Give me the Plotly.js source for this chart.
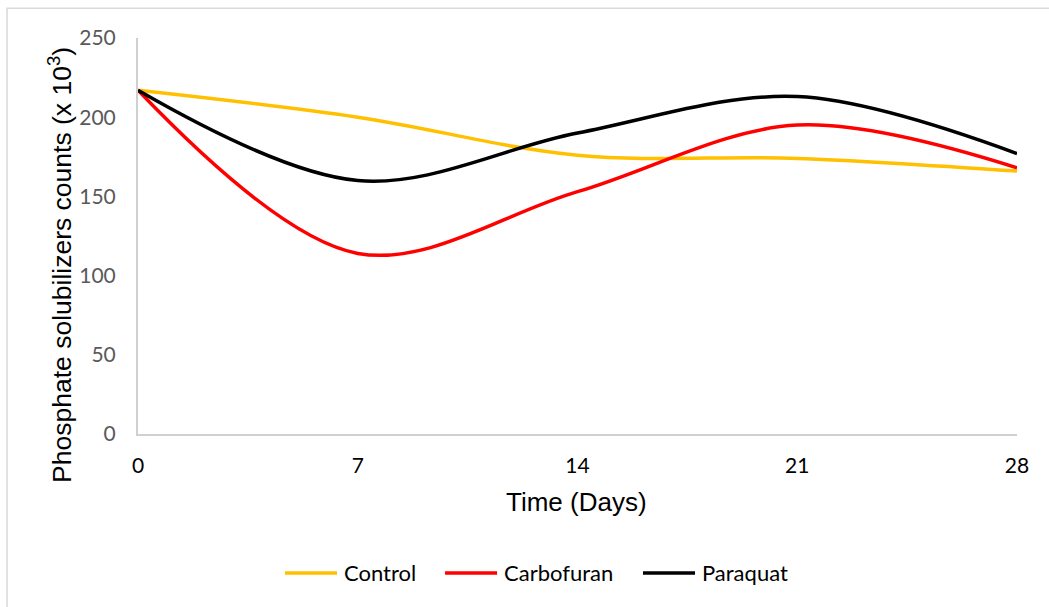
<!DOCTYPE html>
<html>
<head>
<meta charset="utf-8">
<script src="https://cdn.plot.ly/plotly-3.0.1.min.js"></script>
<style>
  html, body { margin: 0; padding: 0; background: #fff; }
  #chart { width: 1049px; height: 607px; }
</style>
</head>
<body>
<div id="chart"></div>
<script>
const days = [0, 7, 14, 21, 28];
const control = [217, 200, 176, 174, 166];
const carbofuran = [217, 114, 153, 195, 168];
const paraquat = [217, 160, 190, 213, 177];
const seriesNames = ['Control', 'Carbofuran', 'Paraquat'];
const colors = ['#FFC000', '#FF0000', '#000000'];
const yTicks = [0, 50, 100, 150, 200, 250];

const seriesData = [control, carbofuran, paraquat];
const traces = seriesData.map((vals, i) => ({
  x: days,
  y: vals,
  name: seriesNames[i],
  type: 'scatter',
  mode: 'lines',
  line: { color: colors[i], width: 3.5, shape: 'spline', smoothing: 1 }
}));

const tickFont = { family: 'Lato, "Open Sans", sans-serif', size: 21 };
const legendFont = { family: 'Lato, "Open Sans", sans-serif', size: 22, color: '#000000' };

// custom legend (line sample + label) placed below the plot
const legendY = -0.351;
const legendLineStart = [0.1672, 0.3493, 0.5745];
const legendLineLen = 0.0592;
const legendShapes = seriesNames.map((n, i) => ({
  type: 'line', xref: 'paper', yref: 'paper',
  x0: legendLineStart[i], x1: legendLineStart[i] + legendLineLen,
  y0: legendY, y1: legendY,
  line: { color: colors[i], width: 3.5 }
}));
const legendLabels = seriesNames.map((n, i) => ({
  text: n, xref: 'paper', yref: 'paper',
  x: legendLineStart[i] + legendLineLen + 0.0057, y: legendY,
  xanchor: 'left', yanchor: 'middle',
  showarrow: false, font: legendFont
}));

const layout = {
  width: 1049,
  height: 607,
  margin: { l: 138, r: 32, t: 38, b: 173 },
  paper_bgcolor: '#ffffff',
  plot_bgcolor: '#ffffff',
  showlegend: false,
  xaxis: {
    range: [0, 28],
    tickvals: days,
    ticktext: days.map(String),
    tickfont: Object.assign({ color: '#000000' }, tickFont),
    showgrid: false,
    zeroline: false,
    showline: true,
    linecolor: '#d0d0d0',
    linewidth: 2,
    ticks: '',
    ticklabelstandoff: 12
  },
  yaxis: {
    range: [0, 250],
    tickvals: yTicks,
    ticktext: yTicks.map(String),
    tickfont: Object.assign({ color: '#595959' }, tickFont),
    showgrid: false,
    zeroline: false,
    showline: true,
    linecolor: '#d0d0d0',
    linewidth: 2,
    ticks: '',
    ticklabelstandoff: 16
  },
  annotations: [
    {
      text: 'Time (Days)',
      xref: 'paper', yref: 'paper',
      x: 0.4994, y: -0.172,
      xanchor: 'center', yanchor: 'middle',
      showarrow: false,
      font: { family: '"Liberation Sans", Arial, sans-serif', size: 26, color: '#000000' }
    },
    {
      text: 'Phosphate solubilizers counts (x 10<sup>3</sup>)',
      xref: 'paper', yref: 'paper',
      x: -0.0887, y: 0.427,
      xanchor: 'center', yanchor: 'middle',
      textangle: -90,
      showarrow: false,
      font: { family: '"Liberation Sans", Arial, sans-serif', size: 26.5, color: '#000000' }
    }
  ].concat(legendLabels),
  shapes: [
    {
      type: 'rect', xref: 'paper', yref: 'paper',
      x0: -0.149, x1: 1.2, y0: -0.6, y1: 1.075,
      line: { color: '#d9d9d9', width: 1.5 },
      fillcolor: 'rgba(0,0,0,0)',
      layer: 'below'
    }
  ].concat(legendShapes)
};

Plotly.newPlot('chart', traces, layout, { displayModeBar: false, staticPlot: true });
</script>
</body>
</html>
